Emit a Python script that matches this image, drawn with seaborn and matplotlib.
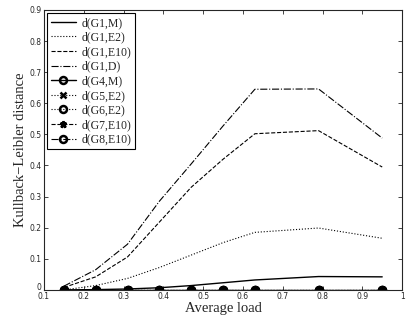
import numpy as np
import pandas as pd
import seaborn as sns
import matplotlib
matplotlib.use("Agg")
import matplotlib.pyplot as plt
import matplotlib.transforms as mtransforms

# average load values where the distances were measured
load = [0.15, 0.23, 0.31, 0.39, 0.47, 0.55, 0.63, 0.79, 0.95]

# Kullback-Leibler distances
d_g1_m = [0.0, 0.001, 0.003, 0.007, 0.014, 0.023, 0.032, 0.043, 0.042]
d_g1_e2 = [0.0, 0.014, 0.037, 0.072, 0.112, 0.152, 0.185, 0.199, 0.166]
d_g1_e10 = [0.008, 0.042, 0.106, 0.218, 0.33, 0.42, 0.502, 0.512, 0.395]
d_g1_d = [0.012, 0.065, 0.147, 0.285, 0.405, 0.527, 0.645, 0.646, 0.488]
d_g4_m = [0.0] * 9
d_g5_e2 = [0.0] * 9
d_g6_e2 = [0.0] * 9
d_g7_e10 = [0.0] * 9
d_g8_e10 = [0.0] * 9

series = [
    ("d(G1,M)", d_g1_m, "-", None),
    ("d(G1,E2)", d_g1_e2, ":", None),
    ("d(G1,E10)", d_g1_e10, "--", None),
    ("d(G1,D)", d_g1_d, "-.", None),
    ("d(G4,M)", d_g4_m, "-", "o"),
    ("d(G5,E2)", d_g5_e2, ":", "x"),
    ("d(G6,E2)", d_g6_e2, ":", "o"),
    ("d(G7,E10)", d_g7_e10, "--", "*"),
    ("d(G8,E10)", d_g8_e10, "-.", "o"),
]

sns.set_style("ticks")
plt.rcParams["font.family"] = ["DejaVu Sans"]

fig = plt.figure(figsize=(4.07, 3.2), dpi=100)
ax = fig.add_axes([0.108, 0.094, 0.88, 0.875])

for name, vals, ls, mk in series:
    df = pd.DataFrame({"load": load, "kl": vals})
    lw = 1.0 if ls == "-" else 0.8
    sns.lineplot(data=df, x="load", y="kl", ax=ax, color="black", linestyle=ls,
                 linewidth=lw, marker=mk, markersize=5, markeredgewidth=1.8,
                 markerfacecolor="none" if mk == "o" else "black",
                 markeredgecolor="black", label=name)

ax.set_xlim(0.1, 1.0)
ax.set_ylim(0, 0.9)
ax.set_xticks(np.arange(0.1, 1.01, 0.1))
ax.set_xticklabels(["0.1", "0.2", "0.3", "0.4", "0.5", "0.6", "0.7", "0.8", "0.9", "1"])
ax.set_yticks(np.arange(0, 0.91, 0.1))
ax.set_yticklabels(["0", "0.1", "0.2", "0.3", "0.4", "0.5", "0.6", "0.7", "0.8", "0.9"])
ax.tick_params(direction="in", length=3, width=0.6, labelsize=5.5, pad=1.5,
               top=True, right=True)
for s in ax.spines.values():
    s.set_linewidth(0.8)
    s.set_visible(True)

# nudge the "0" label up a little so it sits above "0.1" like the original
zero = ax.get_yticklabels()[0]
zero.set_transform(zero.get_transform() +
                   mtransforms.ScaledTranslation(0, 2.5 / 72, fig.dpi_scale_trans))

ax.set_xlabel("Average load", family="Liberation Serif", fontsize=10.5, labelpad=1)
ax.set_ylabel("Kullback\u2212Leibler distance", family="Liberation Serif",
              fontsize=10.5, labelpad=2)

leg = ax.legend(loc="upper left", prop={"family": "Liberation Serif", "size": 8.5},
                frameon=True, fancybox=False, edgecolor="black", framealpha=1,
                borderaxespad=0.3, handlelength=2.1, labelspacing=0.22,
                borderpad=0.3, handletextpad=0.5)
leg.get_frame().set_linewidth(0.8)

fig.savefig("out.png", dpi=100)
